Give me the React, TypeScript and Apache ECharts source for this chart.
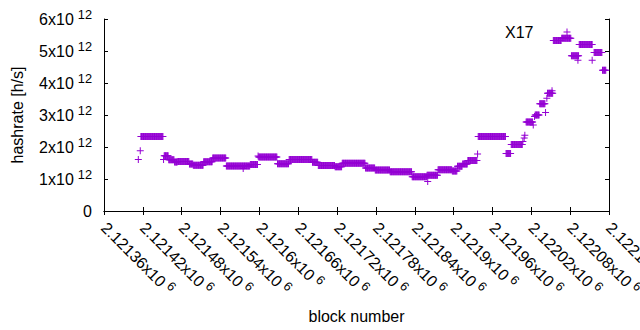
import React, { useEffect, useRef } from "react";
import * as echarts from "echarts";

// Plateaus of (nearly) constant estimated hashrate (units: 10^12 h/s)
const runStart = [2121417, 2121453, 2121460, 2121469, 2121474, 2121492, 2121498, 2121514, 2121528, 2121549, 2121586, 2121599, 2121628, 2121646, 2121682, 2121691, 2121717, 2121728, 2121764, 2121779, 2121802, 2121836, 2121859, 2121876, 2121898, 2121906, 2121914, 2121922, 2121938, 2121981, 2121989, 2122012, 2122026, 2122033, 2122045, 2122054, 2122067, 2122082, 2122094, 2122117, 2122130];
const runEnd = [2121451, 2121459, 2121468, 2121473, 2121491, 2121497, 2121513, 2121527, 2121548, 2121585, 2121597, 2121627, 2121645, 2121681, 2121690, 2121716, 2121727, 2121763, 2121778, 2121801, 2121835, 2121858, 2121875, 2121897, 2121905, 2121913, 2121921, 2121936, 2121980, 2121988, 2122006, 2122022, 2122032, 2122041, 2122053, 2122066, 2122081, 2122093, 2122114, 2122129, 2122135];
const runValue = [2.33, 1.73, 1.6, 1.53, 1.55, 1.47, 1.43, 1.54, 1.66, 1.41, 1.45, 1.69, 1.48, 1.61, 1.52, 1.42, 1.38, 1.49, 1.34, 1.28, 1.23, 1.07, 1.12, 1.29, 1.25, 1.4, 1.47, 1.58, 2.33, 1.8, 2.08, 2.78, 3.0, 3.35, 3.68, 5.33, 5.4, 4.85, 5.2, 4.95, 4.4];

// Isolated points
const singleBlock = [2121413, 2121416, 2121452, 2121575, 2121598, 2121860, 2121937, 2122007, 2122009, 2122010, 2122023, 2122025, 2122042, 2122044, 2122052, 2122092, 2122114];
const singleValue = [1.61, 1.88, 1.61, 1.33, 1.72, 0.92, 1.78, 2.17, 2.28, 2.37, 2.69, 2.95, 3.08, 3.52, 3.76, 4.71, 4.71];

const seriesName = "X17";
const xMin = 2121360;
const xMax = 2122140;
const xStep = 60;
const yMax = 6e12;
const yStep = 1e12;

const PURPLE = "#9400d3";
const FONT = "Liberation Sans";
const PLUS = "path://M0,3H3V0H4V3H7V4H4V7H3V4H0Z";

function buildPoints(): number[][] {
  const pts: number[][] = [];
  for (let i = 0; i < runStart.length; i++) {
    for (let b = runStart[i]; b <= runEnd[i]; b++) {
      pts.push([b, runValue[i] * 1e12]);
    }
  }
  for (let i = 0; i < singleBlock.length; i++) {
    pts.push([singleBlock[i], singleValue[i] * 1e12]);
  }
  return pts;
}

const rich = {
  m: { fontSize: 16, fontFamily: FONT, color: "#000" },
  s: { fontSize: 12.8, fontFamily: FONT, color: "#000", padding: [0, 0, 9, 4] },
};

export default function App() {
  const ref = useRef<HTMLDivElement>(null);
  useEffect(() => {
    if (!ref.current) return;
    const chart = echarts.init(ref.current, null, { renderer: "svg" });
    const axisLine = { show: true, lineStyle: { color: "#000", width: 1 } };
    const tick = { show: true, inside: true, length: 4, lineStyle: { color: "#000" } };
    chart.setOption({
      animation: false,
      backgroundColor: "#fff",
      textStyle: { fontFamily: FONT },
      grid: { left: 104, right: 31, top: 19, bottom: 119, outerBoundsMode: "none", containLabel: false },
      legend: {
        data: [seriesName],
        right: 69.5,
        top: 24,
        padding: 0,
        align: "right",
        itemWidth: 7,
        itemHeight: 7,
        textStyle: { fontSize: 16, fontFamily: FONT, color: "#000", padding: [0, 25, 0, 0] },
      },
      xAxis: [
        {
          type: "value",
          min: xMin,
          max: xMax,
          interval: xStep,
          position: "bottom",
          name: "block number",
          nameLocation: "middle",
          nameGap: 97,
          nameTextStyle: { fontSize: 16, fontFamily: FONT, color: "#000" },
          axisLine,
          axisTick: tick,
          splitLine: { show: false },
          axisLabel: {
            rotate: -45,
            margin: 14,
            showMinLabel: true,
            showMaxLabel: true,
            formatter: (v: number) => `{m|${parseFloat((v / 1e6).toFixed(5))}x10}{s|6}`,
            rich,
          },
        },
        {
          type: "value",
          min: xMin,
          max: xMax,
          interval: xStep,
          position: "top",
          axisLine,
          axisTick: tick,
          axisLabel: { show: false },
          splitLine: { show: false },
        },
      ],
      yAxis: [
        {
          type: "value",
          min: 0,
          max: yMax,
          interval: yStep,
          position: "left",
          name: "hashrate [h/s]",
          nameLocation: "middle",
          nameGap: 79,
          nameTextStyle: { fontSize: 16, fontFamily: FONT, color: "#000" },
          axisLine,
          axisTick: tick,
          splitLine: { show: false },
          axisLabel: {
            margin: 12,
            formatter: (v: number) => (v === 0 ? "{m|0}" : `{m|${Math.round(v / 1e12)}x10}{s|12}`),
            rich,
          },
        },
        {
          type: "value",
          min: 0,
          max: yMax,
          interval: yStep,
          position: "right",
          axisLine,
          axisTick: tick,
          axisLabel: { show: false },
          splitLine: { show: false },
        },
      ],
      series: [
        {
          name: seriesName,
          type: "scatter",
          symbol: PLUS,
          symbolSize: 7,
          itemStyle: { color: PURPLE, opacity: 1 },
          data: buildPoints(),
          xAxisIndex: 0,
          yAxisIndex: 0,
        },
      ],
    });
    return () => chart.dispose();
  }, []);
  return <div ref={ref} style={{ position: "fixed", left: 0, top: 0, width: 640, height: 330 }} />;
}
